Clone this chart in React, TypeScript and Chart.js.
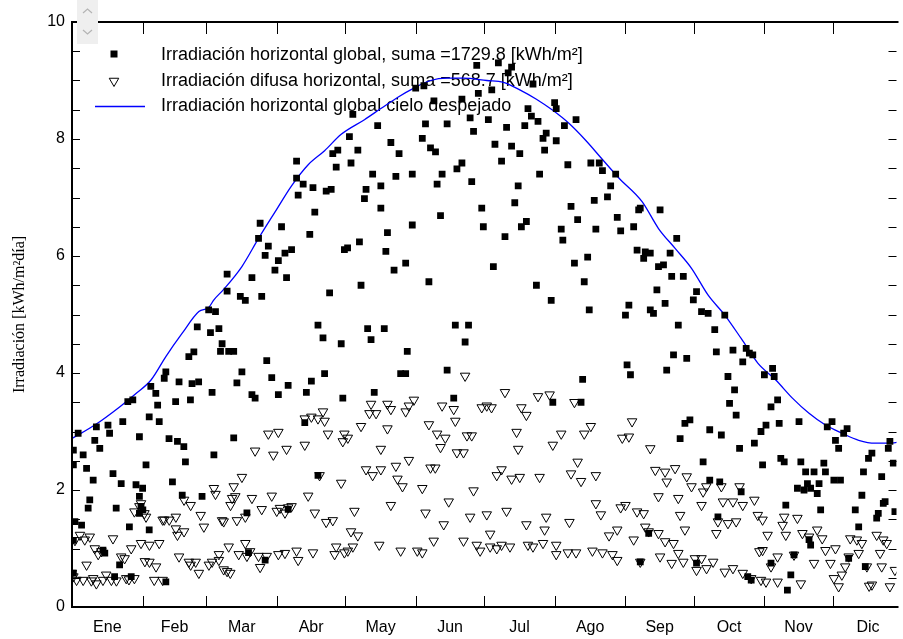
import React, { useEffect, useRef } from 'react';
import { Chart, registerables } from 'chart.js';

Chart.register(...registerables);

const MONTHS = ['Ene', 'Feb', 'Mar', 'Abr', 'May', 'Jun', 'Jul', 'Ago', 'Sep', 'Oct', 'Nov', 'Dic'];
const MONTH_STARTS = [1, 32, 60, 91, 121, 152, 182, 213, 244, 274, 305, 335, 366];
const Y_MIN = 0;
const Y_MAX = 10;
const Y_STEP = 2;
const X_MIN = 1;
const X_MAX = 363;

const SUM_GLOBAL = '1729.8';
const SUM_DIFFUSE = '568.7';
const LABEL_GLOBAL = `Irradiación horizontal global, suma =${SUM_GLOBAL} [kWh/m²]`;
const LABEL_DIFFUSE = `Irradiación difusa horizontal, suma =${SUM_DIFFUSE} [kWh/m²]`;
const LABEL_CLEAR = 'Irradiación horizontal global cielo despejado';
const Y_TITLE = 'Irradiación [kWh/m²día]';

// [day of year, kWh/m²·day]
const GLOBAL_JAN_FEB: number[][] = [
  [1.6, 2.68], [3.7, 2.97], [5.9, 2.6], [1.6, 2.43], [7.4, 2.37], [10.3, 2.17], [11, 2.85], [13.2, 2.71],
  [11.7, 3.08], [16.8, 3.11], [17.5, 2.97], [19, 2.28], [8.1, 1.69], [8.8, 1.83], [5.2, 1.4], [2.3, 1.46],
  [22.6, 2.11], [20.4, 1.69], [26.2, 1.37], [23.3, 3.17], [25.5, 3.51], [27.7, 3.54], [30.6, 2.91], [29.1, 2.09],
  [32, 2.03], [33.5, 2.43], [34.9, 1.32], [35.6, 3.77], [37.8, 3.65], [38.6, 3.45], [34.9, 3.25], [39.3, 3.17],
  [41.5, 3.91], [42.2, 4.02], [43.6, 2.88], [46.5, 3.51], [48, 3.85], [47.3, 2.83], [50.1, 2.74], [50.8, 2.48],
  [45.1, 2.14], [52.3, 4.28], [54.5, 4.36], [56, 4.79], [53, 3.54], [53.7, 3.82], [56.6, 3.85], [49.4, 1.91],
  [58.1, 1.89], [1.6, 1.14], [14.6, 0.97], [15.4, 0.92], [21.9, 0.72], [19.7, 0.52], [27, 0.52], [42.2, 0.43],
  [1.6, 0.58], [30.6, 1.89], [31.3, 1.72], [30.6, 1.6], [32.1, 1.66],
];
const GLOBAL_MAR_APR: number[][] = [
  [61, 5.08], [64, 5.05], [61.8, 4.69], [65.5, 4.76], [66.9, 4.5], [66.2, 4.37], [69.8, 4.37], [72, 4.37],
  [69.1, 5.69], [69.1, 5.4], [62.5, 3.67], [63.3, 2.6], [72, 2.89], [73.4, 3.83], [75.6, 4.02], [74.9, 5.31],
  [77.1, 5.24], [80, 5.63], [80, 3.63], [81.4, 3.57], [82.9, 6.3], [83.6, 6.56], [84.3, 5.31], [85.8, 6.01],
  [87.2, 6.17], [86.5, 4.21], [88.7, 3.92], [90.1, 5.76], [91.6, 5.92], [93, 6.5], [94.5, 6.05], [95.2, 5.63],
  [97.4, 6.11], [91.6, 3.63], [95.9, 3.79], [99.6, 7.62], [99.6, 7.33], [100.3, 7.04], [102.5, 7.23], [106.8, 7.17],
  [107.6, 6.75], [105.4, 6.37], [112.6, 7.11], [114.8, 7.14], [115.5, 7.75], [117.7, 7.81], [117, 7.52], [120.6, 6.11],
  [114.1, 5.37], [109, 4.82], [111.2, 4.6], [119.2, 4.5], [111.9, 3.99], [106.1, 3.86], [103.9, 3.67], [119.9, 3.57],
  [103.2, 3.15], [109, 2.25], [77.8, 1.61], [78.5, 0.93], [95.9, 1.67], [85.8, 0.8],
];
const GLOBAL_MAY_JUN: number[][] = [
  [122, 6.14], [124.3, 8.42], [122.8, 8.04], [126.5, 7.81], [123.5, 7.59], [135.2, 8.23], [141, 7.94], [144.6, 7.75],
  [133, 7.4], [136.6, 7.2], [130.1, 7.14], [129.4, 6.98], [143.2, 7.36], [150.4, 7.4], [151.9, 8.87], [155.5, 8.91],
  [156.2, 8.26], [154.8, 8.01], [158.4, 7.85], [160.6, 7.78], [161.3, 7.23], [163.5, 7.4], [159.9, 8.65], [165.7, 8.26],
  [172.2, 8.68], [175.8, 8.36], [177.3, 8.13], [178.7, 9.26], [179.4, 8.78], [170, 7.49], [172.2, 7.59], [176.5, 7.27],
  [136.6, 6.82], [139.5, 6.4], [127.2, 6.24], [138.8, 6.08], [147.5, 5.88], [142.4, 5.76], [150.4, 6.53], [162.8, 6.69],
  [180.9, 6.82], [181.6, 6.5], [127.9, 5.5], [157.7, 5.56], [130.8, 4.76], [138.1, 4.76], [132.3, 4.57], [169.3, 4.82],
  [175.1, 4.82], [173.6, 4.53], [148.2, 4.37], [145.3, 3.99], [147.5, 3.99], [165.7, 4.05], [133.7, 3.67], [168.6, 3.57],
];
const GLOBAL_JUL_AUG: number[][] = [
  [188.2, 9.3], [194, 9.23], [192.5, 9.13], [185.3, 8.84], [203.4, 8.94], [212.9, 8.62], [213.6, 8.52], [201.2, 8.52],
  [202.7, 8.39], [183.8, 8.33], [191.8, 8.2], [199.8, 8.23], [205.6, 8.3], [209.2, 8.1], [217.2, 8.23], [222.3, 8.33],
  [207.8, 8.01], [213.6, 7.97], [186.7, 7.91], [194, 7.88], [197.6, 7.75], [208.5, 7.81], [189.6, 7.62], [206.3, 7.4],
  [218.7, 7.56], [228.8, 7.59], [232.5, 7.59], [233.9, 7.46], [239.7, 7.4], [237.5, 7.2], [196.9, 7.2], [195.4, 6.91],
  [220.1, 6.85], [230.3, 6.95], [236.1, 7.01], [223, 6.62], [200.5, 6.59], [198.3, 6.5], [215.8, 6.46], [216.5, 6.27],
  [231, 6.46], [240.4, 6.66], [241.9, 6.43], [191.1, 6.33], [186, 5.82], [227.4, 5.98], [221.6, 5.88], [225.9, 5.56],
  [204.9, 5.5], [211.4, 5.24], [228.1, 5.08], [225.2, 3.89], [224.5, 3.5], [212.1, 3.5],
];
const GLOBAL_SEP_OCT: number[][] = [
  [249.8, 6.79], [250.5, 6.82], [259.2, 6.79], [247.6, 6.5], [266.5, 6.3], [249.1, 6.1], [252.7, 6.07], [254.9, 6.05],
  [252, 5.96], [263.6, 6.05], [258.5, 5.82], [260.7, 5.85], [264.3, 5.65], [269.4, 5.65], [257.8, 5.42], [275.2, 5.39],
  [273.8, 5.25], [245.5, 5.16], [244, 4.99], [261.4, 5.19], [254.9, 5.08], [256.3, 5.02], [277.4, 5.05], [280.3, 5.02],
  [287.6, 4.99], [267.2, 4.82], [283.2, 4.74], [265.1, 4.31], [270.9, 4.25], [262.1, 4.05], [283.9, 4.36], [291.2, 4.39],
  [297, 4.42], [298.4, 4.34], [299.9, 4.31], [295.5, 4.19], [244.7, 4.14], [246.2, 3.97], [289, 3.94], [291.9, 3.71],
  [289.7, 3.48], [292.6, 3.28], [270.1, 3.14], [272.3, 3.2], [268, 2.88], [281, 3.03], [286.1, 2.94], [294.1, 2.71],
  [300.6, 2.8], [278.1, 2.48], [281, 2.17], [285.4, 2.14], [294.8, 1.97], [284.6, 1.54], [254.2, 1.26], [250.5, 0.77],
  [297.7, 0.52], [299.2, 0.46], [275.2, 0.75],
];
const GLOBAL_NOV_DEC: number[][] = [
  [308.6, 4.08], [305, 3.97], [309.3, 3.94], [310.8, 3.54], [307.9, 3.42], [305.7, 3.11], [303.5, 3.0], [311.5, 3.14],
  [320.2, 3.17], [334.7, 3.17], [332.6, 3.08], [341.3, 3.05], [336.2, 2.85], [337.6, 2.71], [339.8, 2.97], [352.2, 2.63],
  [350.7, 2.54], [359.4, 2.71], [360.1, 2.83], [361.6, 2.46], [304.2, 2.43], [312.2, 2.54], [313.7, 2.48], [321, 2.48],
  [331.1, 2.46], [331.8, 2.31], [323.1, 2.31], [326.8, 2.31], [329, 2.11], [335.5, 2.17], [338.4, 2.17], [348.5, 2.31],
  [356.5, 2.23], [319.5, 2.03], [322.4, 2.0], [323.9, 2.11], [325.3, 2.03], [328.2, 1.94], [347.8, 1.91], [358, 1.8],
  [357.2, 1.77], [314.4, 1.74], [329.7, 1.66], [344.9, 1.66], [355, 1.6], [354.3, 1.52], [362.3, 1.63], [346.4, 1.37],
  [324.6, 1.15], [325.3, 1.06], [342, 0.83], [349.3, 0.69], [307.9, 0.75], [318, 0.89], [316.6, 0.55], [315.1, 0.29],
];

const DIFFUSE_JAN_FEB: number[][] = [
  [2.3, 1.14], [4.5, 1.23], [8.8, 1.2], [0.9, 0.58], [3, 0.46], [5.9, 0.46], [10.3, 0.49], [11.7, 0.4],
  [14.6, 0.46], [18.3, 0.46], [24.8, 0.49], [28.4, 0.49], [7.4, 0.72], [13.9, 0.95], [19, 1.17], [24.1, 0.83],
  [27, 1.0], [31.3, 1.09], [35, 1.06], [39.3, 1.09], [35, 0.77], [37.9, 0.69], [37.1, 0.46], [40.8, 0.46],
  [22.6, 0.86], [30.6, 1.72], [33.5, 1.54], [28.4, 1.63], [40.8, 1.49], [43.7, 1.49], [46.6, 1.54], [50.2, 1.83],
  [53.1, 1.74], [57.5, 1.57], [58.9, 1.37], [46.6, 1.34], [47.3, 1.23], [50.2, 1.29], [48, 0.86], [53.1, 0.72],
  [55.3, 0.77], [56.7, 0.58], [61.1, 0.72], [6.6, 1.15], [11, 1.0], [16, 0.55], [20.5, 0.45], [26, 0.47],
  [33, 0.78], [1.6, 0.52], [12.5, 0.9], [9.5, 0.45], [31.3, 1.77], [32.8, 1.6], [41.5, 1.49], [52.3, 0.77],
];
const DIFFUSE_MAR_APR: number[][] = [
  [87.2, 2.96], [91.6, 2.99], [81.4, 2.67], [89.4, 2.6], [95.2, 2.7], [103.2, 2.77], [103.2, 3.22], [106.1, 3.25],
  [109, 3.22], [111.2, 3.34], [111.9, 3.18], [113.4, 2.96], [120.6, 2.96], [119.9, 2.83], [75.6, 2.22], [72, 2.06],
  [71.3, 1.86], [64, 1.93], [63.3, 2.03], [80, 1.86], [88.7, 1.9], [84.3, 1.67], [90.9, 1.64], [95.9, 1.7],
  [94.5, 1.61], [104.7, 1.9], [109.7, 2.25], [107.6, 1.61], [112.6, 1.45], [115.5, 1.48], [119.2, 2.12], [66.9, 1.48],
  [73.4, 1.48], [77.1, 1.54], [69.8, 1.03], [77.1, 1.09], [74.2, 0.9], [77.8, 0.87], [82.9, 0.87], [86.5, 0.87],
  [83.6, 0.68], [91.6, 0.9], [94.5, 0.92], [99.6, 0.96], [100.3, 0.8], [106.8, 0.93], [117, 1.03], [116.3, 0.9],
  [120.6, 0.93], [65.5, 0.9], [62.5, 0.77], [67.6, 0.64], [69.1, 0.61], [70.5, 0.58], [92.3, 1.69], [97.4, 1.72],
  [79.2, 0.95], [65.5, 0.8], [67.6, 1.46], [70.6, 1.74], [72.7, 1.89],
];
const DIFFUSE_MAY_JUN: number[][] = [
  [173.6, 3.95], [151.1, 3.54], [148.9, 3.44], [147.5, 3.34], [139.5, 3.47], [141, 3.38], [132.3, 3.47], [131.6, 3.31],
  [134.5, 3.31], [127.9, 3.09], [139.5, 3.05], [163.5, 3.44], [168.6, 3.38], [169.3, 3.18], [157.7, 3.12], [161.3, 2.96],
  [164.9, 2.89], [162.8, 2.73], [174.4, 2.93], [176.5, 2.93], [170, 2.64], [172.9, 2.64], [180.9, 3.41], [122.1, 2.89],
  [136.6, 2.7], [130.1, 2.35], [133, 2.25], [136.6, 2.35], [143.2, 2.41], [148.9, 2.51], [143.9, 2.19], [146.1, 2.06],
  [158.4, 2.38], [160.5, 2.38], [154.8, 2.03], [177.3, 1.99], [125, 1.64], [141, 1.74], [156.2, 1.61], [166.4, 1.8],
  [175.8, 1.54], [123.5, 1.29], [126.5, 1.22], [164.2, 1.41], [172.9, 1.13], [135.9, 1.06], [145.3, 0.96], [152.6, 0.96],
  [154.8, 0.93], [159.8, 1.13], [178.7, 1.06], [180.2, 0.96], [122.1, 0.96], [124.3, 1.03],
];
const DIFFUSE_JUL_AUG: number[][] = [
  [183.1, 3.44], [191.1, 3.67], [185.2, 3.41], [205.6, 3.6], [210.7, 3.63], [221.6, 3.5], [198.3, 3.41], [200.5, 3.28],
  [196.2, 2.99], [196.9, 2.7], [212.1, 2.77], [215.8, 2.96], [225.9, 2.96], [228.8, 3.09], [242.6, 2.89], [223, 2.48],
  [187.5, 2.25], [189.6, 2.35], [194, 2.19], [197.6, 2.22], [206.3, 2.22], [220.1, 2.28], [224.5, 2.15], [231, 2.25],
  [183.1, 1.58], [191.8, 1.64], [209.2, 1.54], [219.4, 1.45], [231, 1.77], [233.2, 1.58], [241.9, 1.7], [184.6, 1.25],
  [200.5, 1.41], [208.5, 1.32], [236.8, 1.22], [240.4, 1.32], [184.6, 1.03], [187.5, 1.0], [189.6, 1.06], [193.3, 1.03],
  [201.2, 1.06], [203.4, 1.03], [207.8, 1.09], [213.6, 1.06], [213.6, 0.9], [218.7, 0.93], [222.3, 0.93], [229.5, 0.96],
  [233.9, 0.93], [238.3, 0.9], [240.4, 0.8],
];
const DIFFUSE_SEP_OCT: number[][] = [
  [246.9, 3.17], [245.5, 2.91], [254.9, 2.71], [257.1, 2.34], [261.4, 2.31], [265.8, 2.37], [262.1, 2.14], [270.9, 2.23],
  [273, 2.06], [278.1, 1.97], [279.5, 2.06], [286.1, 2.06], [294.1, 2.06], [258.5, 1.89], [267.2, 1.86], [277.4, 1.74],
  [286.8, 1.8], [291.2, 1.8], [295.5, 1.74], [300.6, 1.83], [244, 1.74], [249.1, 1.63], [252, 1.6], [268, 1.57],
  [302.1, 1.57], [284.6, 1.46], [289, 1.43], [292.6, 1.46], [252.7, 1.37], [254.2, 1.29], [258.5, 1.26], [270.1, 1.32],
  [283.9, 1.26], [247.6, 1.15], [261.4, 1.12], [265.1, 1.09], [302.8, 0.95], [267.2, 0.92], [250.5, 0.77], [259.2, 0.86],
  [264.3, 0.75], [269.4, 0.77], [274.5, 0.83], [277.4, 0.83], [282.5, 0.77], [275.2, 0.63], [279.6, 0.66], [287.6, 0.6],
  [291.2, 0.66], [295.5, 0.58], [299.2, 0.49], [303.5, 0.46],
];
const DIFFUSE_NOV_DEC: number[][] = [
  [304.2, 1.49], [306.4, 1.23], [313.7, 1.54], [313, 1.4], [314.4, 1.23], [319.5, 1.52], [321.7, 1.26], [324.6, 1.2],
  [328.2, 1.32], [330.4, 1.17], [331.8, 0.97], [336.2, 1.0], [334, 0.75], [326.8, 0.75], [304.2, 0.97], [310.8, 0.86],
  [307.9, 0.69], [305.7, 0.43], [310.8, 0.43], [321, 0.4], [318, 0.89], [335.5, 0.49], [337.6, 0.35], [339, 0.55],
  [342, 0.86], [342.7, 1.17], [345.6, 1.15], [347.8, 1.09], [346.4, 0.92], [354.3, 1.23], [357.2, 1.15], [358.7, 1.09],
  [355.8, 0.92], [350, 0.69], [352.2, 0.38], [351, 0.36], [356.5, 0.69], [360.1, 0.35], [362.3, 0.63], [340.5, 0.69],
];

const CLEAR_SKY: number[][] = [
  [1, 2.88], [11, 3.11], [21.9, 3.42], [29.1, 3.65], [35.7, 3.88], [42.2, 4.28], [49.4, 4.68], [56.7, 5.05],
  [61, 5.12], [63.3, 5.25], [67.6, 5.43], [75.6, 5.82], [82.9, 6.3], [90.1, 6.75], [97.4, 7.2], [104.7, 7.56],
  [111.9, 7.8], [119.2, 8.08], [129.4, 8.33], [136.6, 8.52], [143.9, 8.71], [151.1, 8.87], [158.4, 9.0], [165.7, 9.04],
  [172.9, 9.04], [183.1, 9.0], [190.4, 8.97], [197.6, 8.84], [204.9, 8.68], [212.1, 8.49], [219.4, 8.26], [226.7, 7.97],
  [233.9, 7.65], [241.2, 7.33], [251.3, 6.93], [258.5, 6.47], [265.8, 6.13], [273, 5.79], [280.3, 5.33], [287.6, 4.99],
  [294.8, 4.59], [302.1, 4.17], [310, 3.88], [317.3, 3.57], [324.6, 3.31], [331.8, 3.11], [339.1, 2.97], [346.4, 2.85],
  [353.6, 2.8], [360.9, 2.8], [365, 2.83],
];

const toXY = (rows: number[][]) => rows.map(([x, y]) => ({ x, y }));

const SANS = "'Liberation Sans', Arial, sans-serif";
const SERIF = "'Liberation Serif', 'Times New Roman', serif";

function drawSquare(ctx: CanvasRenderingContext2D, x: number, y: number, s: number) {
  ctx.fillStyle = '#000';
  ctx.fillRect(x - s / 2, y - s / 2, s, s);
}

function drawTriangle(ctx: CanvasRenderingContext2D, x: number, y: number, r: number) {
  ctx.beginPath();
  ctx.moveTo(x, y + r);
  ctx.lineTo(x - r * Math.sin(Math.PI / 3), y - r / 2);
  ctx.lineTo(x + r * Math.sin(Math.PI / 3), y - r / 2);
  ctx.closePath();
  ctx.strokeStyle = '#000';
  ctx.lineWidth = 1;
  ctx.stroke();
}

const decorPlugin = {
  id: 'decor',
  beforeDatasetsDraw(chart: any) {
    const ctx: CanvasRenderingContext2D = chart.ctx;
    ctx.save();
    drawSquare(ctx, 114, 54, 7);
    drawTriangle(ctx, 114, 81, 5.5);
    ctx.beginPath();
    ctx.strokeStyle = '#0000ff';
    ctx.lineWidth = 1.5;
    ctx.moveTo(95, 106.5);
    ctx.lineTo(145, 106.5);
    ctx.stroke();
    ctx.fillStyle = '#000';
    ctx.font = `18px ${SANS}`;
    ctx.textAlign = 'left';
    ctx.textBaseline = 'middle';
    ctx.fillText(LABEL_GLOBAL, 161, 55);
    ctx.fillText(LABEL_DIFFUSE, 161, 81);
    ctx.fillText(LABEL_CLEAR, 161, 106);
    ctx.restore();
  },
  afterDraw(chart: any) {
    const ctx: CanvasRenderingContext2D = chart.ctx;
    const a = chart.chartArea;
    const xs = chart.scales.x;
    const ys = chart.scales.y;
    ctx.save();
    ctx.strokeStyle = '#000';
    ctx.lineWidth = 1;
    ctx.beginPath();
    for (let v = Y_MIN + 0.5; v < Y_MAX; v += 0.5) {
      const py = Math.round(ys.getPixelForValue(v)) + 0.5;
      ctx.moveTo(a.left, py);
      ctx.lineTo(a.left + 8, py);
      ctx.moveTo(a.right - 8, py);
      ctx.lineTo(a.right, py);
    }
    for (let i = 1; i < MONTH_STARTS.length - 1; i++) {
      const px = Math.round(xs.getPixelForValue(MONTH_STARTS[i])) + 0.5;
      ctx.moveTo(px, a.bottom);
      ctx.lineTo(px, a.bottom - 11);
      ctx.moveTo(px, a.top);
      ctx.lineTo(px, a.top + 12);
    }
    ctx.stroke();
    ctx.lineWidth = 2;
    ctx.beginPath();
    ctx.moveTo(a.right + 2, a.top);
    ctx.lineTo(a.left, a.top);
    ctx.lineTo(a.left, a.bottom);
    ctx.lineTo(a.right + 2, a.bottom);
    ctx.stroke();

    // y-axis title
    ctx.save();
    ctx.translate(20, (a.top + a.bottom) / 2);
    ctx.rotate(-Math.PI / 2);
    ctx.font = `16px ${SERIF}`;
    ctx.fillStyle = '#000';
    ctx.textAlign = 'center';
    ctx.textBaseline = 'middle';
    ctx.fillText(Y_TITLE, 0, 0);
    ctx.restore();

    // small spin control in the corner
    ctx.fillStyle = '#efefef';
    ctx.fillRect(77, 0, 21, 44);
    ctx.strokeStyle = '#b4b4b4';
    ctx.lineWidth = 1.2;
    ctx.beginPath();
    ctx.moveTo(83, 13);
    ctx.lineTo(87.5, 9);
    ctx.lineTo(92, 13);
    ctx.moveTo(83, 30);
    ctx.lineTo(87.5, 34);
    ctx.lineTo(92, 30);
    ctx.stroke();
    ctx.restore();
  },
};

export default function App() {
  const ref = useRef<HTMLCanvasElement | null>(null);

  useEffect(() => {
    if (!ref.current) return;
    const globalPts = toXY([
      ...GLOBAL_JAN_FEB, ...GLOBAL_MAR_APR, ...GLOBAL_MAY_JUN,
      ...GLOBAL_JUL_AUG, ...GLOBAL_SEP_OCT, ...GLOBAL_NOV_DEC,
    ]);
    const diffusePts = toXY([
      ...DIFFUSE_JAN_FEB, ...DIFFUSE_MAR_APR, ...DIFFUSE_MAY_JUN,
      ...DIFFUSE_JUL_AUG, ...DIFFUSE_SEP_OCT, ...DIFFUSE_NOV_DEC,
    ]);
    const clearPts = toXY(CLEAR_SKY);

    const chart = new Chart(ref.current, {
      type: 'scatter',
      data: {
        datasets: [
          {
            label: LABEL_GLOBAL,
            data: globalPts,
            pointStyle: 'rect',
            pointRadius: 4.8,
            backgroundColor: '#000',
            borderColor: '#000',
            borderWidth: 0,
            order: 0,
          },
          {
            label: LABEL_CLEAR,
            data: clearPts,
            showLine: true,
            pointRadius: 0,
            borderColor: '#0000ff',
            backgroundColor: '#0000ff',
            borderWidth: 1.3,
            cubicInterpolationMode: 'monotone',
            order: 1,
          } as any,
          {
            label: LABEL_DIFFUSE,
            data: diffusePts,
            pointStyle: 'triangle',
            rotation: 180,
            pointRadius: 5.5,
            backgroundColor: 'rgba(0,0,0,0)',
            borderColor: '#000',
            borderWidth: 1,
            order: 2,
          } as any,
        ],
      },
      options: {
        animation: false,
        responsive: false,
        events: [],
        layout: { padding: { top: 22, right: 0, left: 0, bottom: 0 } },
        plugins: {
          legend: { display: false },
          tooltip: { enabled: false },
          title: { display: false },
        },
        scales: {
          x: {
            type: 'linear',
            min: X_MIN,
            max: X_MAX,
            afterBuildTicks: (s: any) => {
              s.ticks = MONTHS.map((_, i) => ({ value: (MONTH_STARTS[i] + MONTH_STARTS[i + 1]) / 2 }));
            },
            afterFit: (s: any) => {
              s.height = 32;
            },
            grid: { display: false, drawTicks: false },
            border: { display: false },
            ticks: {
              autoSkip: false,
              maxRotation: 0,
              padding: 11,
              color: '#000',
              font: { family: SANS, size: 16 },
              callback: (_v: any, i: number) => MONTHS[i],
            },
          },
          y: {
            type: 'linear',
            min: Y_MIN,
            max: Y_MAX,
            afterFit: (s: any) => {
              s.width = 72;
            },
            grid: { display: false, drawTicks: false },
            border: { display: false },
            ticks: {
              stepSize: Y_STEP,
              padding: 7,
              color: '#000',
              font: { family: SANS, size: 16 },
            },
          },
        },
      },
      plugins: [decorPlugin],
    });
    return () => chart.destroy();
  }, []);

  return (
    <div style={{ position: 'absolute', left: 0, top: 0, width: 903, height: 639, background: '#fff' }}>
      <canvas ref={ref} width={903} height={639} style={{ display: 'block', width: 903, height: 639 }} />
    </div>
  );
}
